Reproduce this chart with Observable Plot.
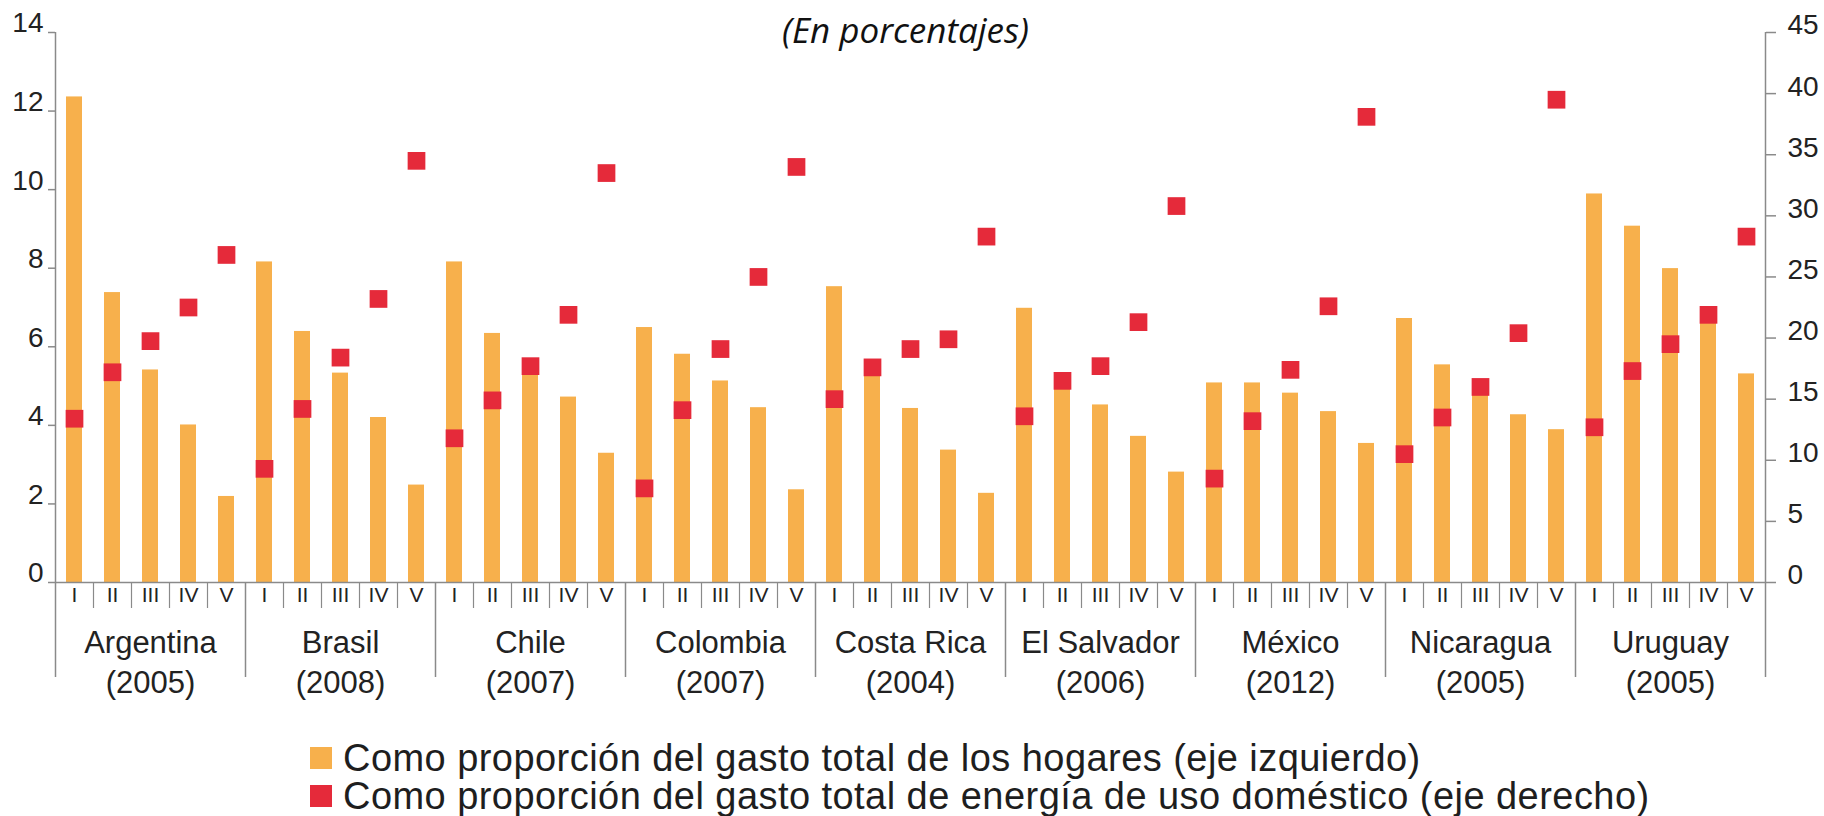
<!DOCTYPE html>
<html>
<head>
<meta charset="utf-8">
<script src="https://cdn.jsdelivr.net/npm/d3@7"></script>
<script src="https://cdn.jsdelivr.net/npm/@observablehq/plot@0.6"></script>
<style>
  html, body { margin: 0; padding: 0; background: #fff; }
  body { width: 1824px; height: 816px; overflow: hidden; font-family: "Liberation Sans", Arial, sans-serif; }
  #chart svg { display: block; }
  #legend { margin-top: 39px; padding-left: 310px; font-size: 38px; line-height: 38px; letter-spacing: 0.45px; color: #1e1e1e; }
  .item { display: flex; align-items: center; height: 38px; white-space: nowrap; }
  .sw { width: 22px; height: 22px; margin-right: 11px; flex: none; }
</style>
</head>
<body>
<div id="chart"></div>
<div id="legend"></div>
<script>
// ---- data ----
const countries = ["Argentina", "Brasil", "Chile", "Colombia", "Costa Rica", "El Salvador", "México", "Nicaragua", "Uruguay"];
const years = ["(2005)", "(2008)", "(2007)", "(2007)", "(2004)", "(2006)", "(2012)", "(2005)", "(2005)"];
const quintiles = ["I", "II", "III", "IV", "V"];
// Como proporción del gasto total de los hogares (eje izquierdo)
const householdShare = [
  [12.36, 7.38, 5.41, 4.01, 2.19],
  [8.16, 6.39, 5.33, 4.20, 2.48],
  [8.16, 6.34, 5.40, 4.72, 3.29],
  [6.49, 5.81, 5.13, 4.45, 2.36],
  [7.53, 5.35, 4.43, 3.37, 2.27],
  [6.98, 4.95, 4.52, 3.72, 2.81],
  [5.08, 5.08, 4.82, 4.35, 3.54],
  [6.72, 5.54, 4.90, 4.27, 3.89],
  [9.89, 9.07, 7.99, 6.75, 5.31]
];
// Como proporción del gasto total de energía de uso doméstico (eje derecho)
const energyShare = [
  [13.4, 17.2, 19.75, 22.5, 26.8],
  [9.3, 14.2, 18.4, 23.2, 34.5],
  [11.8, 14.9, 17.7, 21.9, 33.5],
  [7.7, 14.1, 19.1, 25.0, 34.0],
  [15.0, 17.6, 19.1, 19.9, 28.3],
  [13.6, 16.5, 17.7, 21.3, 30.8],
  [8.5, 13.2, 17.4, 22.6, 38.1],
  [10.5, 13.5, 16.0, 20.4, 39.5],
  [12.7, 17.3, 19.5, 21.9, 28.3]
];
const leftTicks = [0, 2, 4, 6, 8, 10, 12, 14];
const rightTicks = [0, 5, 10, 15, 20, 25, 30, 35, 40, 45];
const legendLabels = [
  "Como proporción del gasto total de los hogares (eje izquierdo)",
  "Como proporción del gasto total de energía de uso doméstico (eje derecho)"
];
const title = "(En porcentajes)";

// ---- styling ----
const orange = "#f7b04c";
const red = "#e52a3a";
const axisGray = "#8a8a8a";
const textColor = "#222";
const W = 1824, H = 700, ML = 55, MR = 59, MT = 32, MB = 118;
const LEFT_MAX = leftTicks[leftTicks.length - 1];
const RIGHT_MAX = rightTicks[rightTicks.length - 1];
const k = LEFT_MAX / RIGHT_MAX; // right-axis value -> left-axis units
const rightTickPos = rightTicks.map(v => v * k);

const rows = countries.flatMap((c, i) => quintiles.map((q, j) => ({
  key: c + "|" + q, country: c, year: years[i], q, j,
  household: householdShare[i][j], energy: energyShare[i][j]
})));
const keys = rows.map(d => d.key);
const step = (W - ML - MR) / keys.length;
const innerH = H - MT - MB;
const middles = rows.filter(d => d.j === 2);
const firsts = rows.filter(d => d.j === 0);
const groupStarts = firsts.slice(1);
const inners = rows.filter(d => d.j !== 0);
const firstRow = rows.slice(0, 1);
const lastRow = rows.slice(-1);

const chart = Plot.plot({
  width: W, height: H,
  marginLeft: ML, marginRight: MR, marginTop: MT, marginBottom: MB,
  style: { fontFamily: '"Liberation Sans", Arial, sans-serif', color: textColor, background: "#fff", overflow: "visible" },
  x: { type: "band", domain: keys, padding: 0, axis: null },
  y: { domain: [0, LEFT_MAX], axis: null },
  marks: [
    Plot.barY(rows, { x: "key", y: "household", fill: orange, insetLeft: 11, insetRight: 11 }),
    Plot.ruleY([0], { stroke: axisGray, strokeWidth: 1.5 }),
    // short separators between quintiles
    Plot.ruleX(inners, { x: "key", dx: -step / 2, stroke: axisGray, strokeWidth: 1.2, insetTop: innerH, insetBottom: -26 }),
    // long separators between countries (below the axis only)
    Plot.ruleX(groupStarts, { x: "key", dx: -step / 2, stroke: axisGray, strokeWidth: 1.5, insetTop: innerH, insetBottom: -95 }),
    // left and right axis lines, extended below the axis
    Plot.ruleX(firstRow, { x: "key", dx: -step / 2, stroke: axisGray, strokeWidth: 1.5, insetBottom: -95 }),
    Plot.ruleX(lastRow, { x: "key", dx: step / 2, stroke: axisGray, strokeWidth: 1.5, insetBottom: -95 }),
    Plot.dot(rows, { x: "key", y: d => d.energy * k, symbol: "square", r: 10, fill: red }),
    // left axis: ticks at the values, labels set slightly above
    Plot.axisY(leftTicks, { anchor: "left", label: null, tickSize: 7, tickFormat: () => "", stroke: axisGray, strokeWidth: 1.5 }),
    Plot.axisY(leftTicks, { anchor: "left", label: null, tickSize: 0, tickPadding: 12, dy: -9, fontSize: 28, fill: textColor }),
    // right axis
    Plot.axisY(rightTickPos, { anchor: "right", label: null, tickSize: 10, tickFormat: () => "", stroke: axisGray, strokeWidth: 1.5 }),
    Plot.axisY(rightTickPos, { anchor: "right", label: null, tickSize: 0, tickPadding: 22, dy: -7, fontSize: 28,
      tickFormat: v => String(Math.round(v / k)), fill: textColor }),
    Plot.text(rows, { x: "key", text: "q", frameAnchor: "bottom", dy: 13, fontSize: 21, lineAnchor: "middle", fill: textColor }),
    Plot.text(middles, { x: "key", text: "country", frameAnchor: "bottom", dy: 61, fontSize: 31, lineAnchor: "middle", fill: textColor }),
    Plot.text(middles, { x: "key", text: "year", frameAnchor: "bottom", dy: 101, fontSize: 31, lineAnchor: "middle", fill: textColor }),
    Plot.text([title], { text: d => d, frameAnchor: "top", dy: -1, dx: -5, fontSize: 35, fontStyle: "italic",
      fontFamily: '"Open Sans", sans-serif', lineAnchor: "middle", fill: "#111" })
  ]
});
document.getElementById("chart").appendChild(chart);

const legend = document.getElementById("legend");
[orange, red].forEach((c, i) => {
  const row = document.createElement("div");
  row.className = "item";
  const sw = document.createElement("span");
  sw.className = "sw";
  sw.style.background = c;
  const t = document.createElement("span");
  t.textContent = legendLabels[i];
  row.appendChild(sw);
  row.appendChild(t);
  legend.appendChild(row);
});
</script>
</body>
</html>
